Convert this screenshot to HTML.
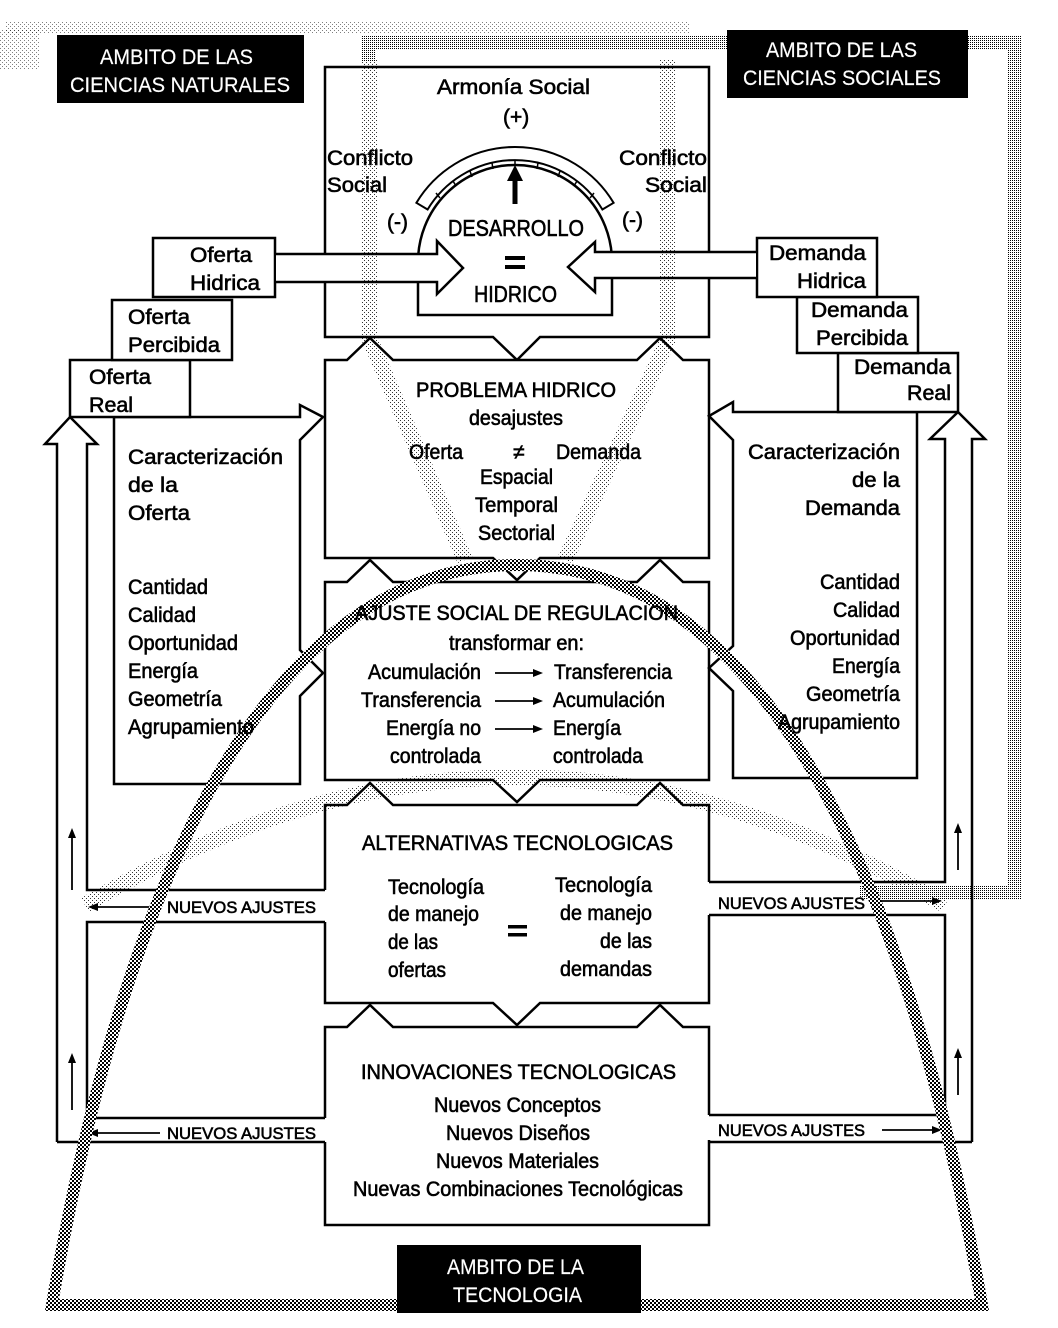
<!DOCTYPE html>
<html><head><meta charset="utf-8"><style>
html,body{margin:0;padding:0;background:#fff}
svg{display:block}
text{font-family:"Liberation Sans",sans-serif;font-size:21px;fill:#000;stroke:#000;stroke-width:0.6}
.w{fill:#fff;stroke:#fff;stroke-width:0.2}
.s{font-size:17px}
</style></head><body>
<svg width="1058" height="1328" viewBox="0 0 1058 1328" xmlns="http://www.w3.org/2000/svg">
<defs>
<pattern id="dk" width="4" height="4" patternUnits="userSpaceOnUse"><rect width="2" height="2" fill="#000"/><rect x="2" y="2" width="2" height="2" fill="#000"/><rect x="2" y="0" width="2" height="2" fill="#fff"/><rect x="0" y="2" width="2" height="2" fill="#fff"/></pattern>
<pattern id="md" width="4" height="4" patternUnits="userSpaceOnUse"><rect width="1" height="1" fill="#000"/><rect x="2" y="2" width="1" height="1" fill="#000"/><rect x="2" y="0" width="1" height="1" fill="#000"/><rect x="0" y="2" width="1" height="1" fill="#000"/></pattern>
<pattern id="lt" width="4" height="4" patternUnits="userSpaceOnUse"><rect width="1" height="1" fill="#000"/><rect x="2" y="2" width="1" height="1" fill="#000"/></pattern>
</defs>

<!-- social ambit frame -->
<path d="M368,62 V42 H1014 V892 H860" fill="none" stroke="url(#md)" stroke-width="14"/>
<rect x="5" y="22" width="685" height="12" fill="url(#lt)" opacity="0.5"/>
<rect x="0" y="30" width="40" height="40" fill="url(#lt)" opacity="0.5"/>

<g fill="#fff" stroke="#000" stroke-width="2.5" stroke-linejoin="miter">
<path d="M325,67 H709 V337 H540 L517,360 L493,337 H325 Z"/>
<path d="M325,360 H347 L370,338 L393,360 H637 L660,338 L683,360 H709 V558 H540 L517,580 L493,558 H325 Z"/>
<path d="M325,582 H347 L370,560 L393,582 H637 L660,560 L683,582 H709 V780 H540 L517,802 L493,780 H325 Z"/>
<path d="M325,805 H347 L370,783 L393,805 H637 L660,783 L683,805 H709 V1003 H540 L517,1025 L493,1003 H325 Z" stroke="none"/>
<path d="M325,890 V805 H347 L370,783 L393,805 H637 L660,783 L683,805 H709 V882" fill="none"/>
<path d="M709,915 V1003 H540 L517,1025 L493,1003 H325 V922" fill="none"/>
<path d="M325,1027 H347 L370,1005 L393,1027 H637 L660,1005 L683,1027 H709 V1225 H325 Z" stroke="none"/>
<path d="M325,1118 V1027 H347 L370,1005 L393,1027 H637 L660,1005 L683,1027 H709 V1115" fill="none"/>
<path d="M709,1140 V1225 H325 V1142" fill="none"/>

<path d="M114,417 H300 V405 L323,417 L300,440 V650 L323,673 L300,696 V784 H114 Z"/>
<path d="M917,412 H733 V402 L709,416 L733,440 V646 L709,668 L733,691 V778 H917 Z"/>

<rect x="70" y="360" width="120" height="57"/>
<rect x="112" y="300" width="120" height="60"/>
<rect x="153" y="238" width="122" height="59"/>
<rect x="838" y="353" width="120" height="59"/>
<rect x="797" y="297" width="121" height="56"/>
<rect x="757" y="238" width="120" height="59"/>

<path d="M418,262 A97,97 0 0 1 612,262 V315 H418 Z"/>
<path d="M276,254 H437 V241 L463,268 L437,294 V282 H276"/>
<path d="M756,252 H595 V242 L568,267 L595,292 V278 H756"/>
<path d="M416.4,202.8 A115,115 0 0 1 613.6,202.8 L602.4,209.5 A102,102 0 0 0 427.6,209.5 Z" stroke-width="2"/>
</g>
<g stroke="#000" stroke-width="1.5">
<line x1="453" y1="181" x2="456" y2="186"/><line x1="470" y1="171" x2="472" y2="177"/><line x1="492" y1="163" x2="493" y2="169"/><line x1="515" y1="160" x2="515" y2="166"/><line x1="538" y1="163" x2="537" y2="169"/><line x1="560" y1="171" x2="558" y2="177"/><line x1="577" y1="181" x2="574" y2="186"/><line x1="436" y1="193" x2="440" y2="198"/><line x1="594" y1="193" x2="590" y2="198"/>
</g>
<line x1="515" y1="204" x2="515" y2="178" stroke="#000" stroke-width="5"/>
<polygon points="507,181 515,165 523,181" fill="#000"/>

<g fill="none" stroke="#000" stroke-width="2.5">
<path d="M57,1142 V444 H45 L70,417 L97,444 H87 V890 H325"/>
<path d="M325,922 H87 V1118 H325"/>
<path d="M57,1142 H325"/>
<path d="M972,1142 V439 H985 L958,412 L930,439 H945 V882 H709"/>
<path d="M709,915 H945 V1115 H709"/>
<path d="M972,1142 H709"/>
</g>
<g stroke="#000" stroke-width="1.8">
<line x1="160" y1="907" x2="96" y2="907"/><line x1="160" y1="1133" x2="96" y2="1133"/>
<line x1="870" y1="901" x2="934" y2="901"/><line x1="882" y1="1130" x2="934" y2="1130"/>
<line x1="72" y1="890" x2="72" y2="836"/><line x1="72" y1="1110" x2="72" y2="1061"/>
<line x1="958" y1="870" x2="958" y2="831"/><line x1="958" y1="1095" x2="958" y2="1056"/>
<line x1="495" y1="673" x2="535" y2="673"/><line x1="495" y1="701" x2="535" y2="701"/><line x1="495" y1="729" x2="535" y2="729"/>
</g>
<g fill="#000">
<polygon points="88,907 98,903 98,911"/><polygon points="88,1133 98,1129 98,1137"/>
<polygon points="942,901 932,897 932,905"/><polygon points="942,1130 932,1126 932,1134"/>
<polygon points="72,828 68,838 76,838"/><polygon points="72,1053 68,1063 76,1063"/>
<polygon points="958,823 954,833 962,833"/><polygon points="958,1048 954,1058 962,1058"/>
<polygon points="543,673 533,669 533,677"/><polygon points="543,701 533,697 533,705"/><polygon points="543,729 533,725 533,733"/>
</g>

<g fill="none" stroke="url(#lt)" stroke-width="16" opacity="0.8">
<path d="M370,60 V340 L465,560"/>
<path d="M668,60 V340 L565,560"/>
<path d="M85,905 Q515,650 945,905"/>
</g>
<path d="M52,1305 C120,900 260,565 517,565 C774,565 912,900 982,1305 Z" fill="none" stroke="url(#dk)" stroke-width="12"/>

<rect x="57" y="35" width="247" height="68" fill="#000"/>
<rect x="727" y="30" width="241" height="68" fill="#000"/>
<rect x="397" y="1245" width="244" height="68" fill="#000"/>
<text class="w" x="100" y="64" textLength="153" lengthAdjust="spacingAndGlyphs">AMBITO DE LAS</text>
<text class="w" x="70" y="92" textLength="220" lengthAdjust="spacingAndGlyphs">CIENCIAS NATURALES</text>
<text class="w" x="766" y="57" textLength="151" lengthAdjust="spacingAndGlyphs">AMBITO DE LAS</text>
<text class="w" x="743" y="85" textLength="198" lengthAdjust="spacingAndGlyphs">CIENCIAS SOCIALES</text>
<text class="w" x="447" y="1274" textLength="137" lengthAdjust="spacingAndGlyphs">AMBITO DE LA</text>
<text class="w" x="453" y="1302" textLength="129" lengthAdjust="spacingAndGlyphs">TECNOLOGIA</text>

<text x="437" y="94" textLength="153" lengthAdjust="spacingAndGlyphs">Armonía Social</text>
<text x="503" y="124">(+)</text>
<text x="327" y="165" textLength="86" lengthAdjust="spacingAndGlyphs">Conflicto</text>
<text x="327" y="192" textLength="60" lengthAdjust="spacingAndGlyphs">Social</text>
<text x="619" y="165" textLength="88" lengthAdjust="spacingAndGlyphs">Conflicto</text>
<text x="645" y="192" textLength="62" lengthAdjust="spacingAndGlyphs">Social</text>
<text x="387" y="229">(-)</text>
<text x="622" y="227">(-)</text>
<text x="448" y="236" textLength="136" lengthAdjust="spacingAndGlyphs" style="font-size:23px">DESARROLLO</text>
<rect x="505" y="256" width="20" height="4" fill="#000"/><rect x="505" y="265" width="20" height="4" fill="#000"/>
<text x="474" y="302" textLength="83" lengthAdjust="spacingAndGlyphs" style="font-size:23px">HIDRICO</text>

<text x="190" y="262" textLength="62" lengthAdjust="spacingAndGlyphs">Oferta</text>
<text x="190" y="290" textLength="70" lengthAdjust="spacingAndGlyphs">Hidrica</text>
<text x="128" y="324" textLength="62" lengthAdjust="spacingAndGlyphs">Oferta</text>
<text x="128" y="352" textLength="92" lengthAdjust="spacingAndGlyphs">Percibida</text>
<text x="89" y="384" textLength="62" lengthAdjust="spacingAndGlyphs">Oferta</text>
<text x="89" y="412" textLength="44" lengthAdjust="spacingAndGlyphs">Real</text>
<text x="769" y="260" textLength="97" lengthAdjust="spacingAndGlyphs">Demanda</text>
<text x="797" y="288" textLength="69" lengthAdjust="spacingAndGlyphs">Hidrica</text>
<text x="811" y="317" textLength="97" lengthAdjust="spacingAndGlyphs">Demanda</text>
<text x="816" y="345" textLength="92" lengthAdjust="spacingAndGlyphs">Percibida</text>
<text x="854" y="374" textLength="97" lengthAdjust="spacingAndGlyphs">Demanda</text>
<text x="907" y="400" textLength="44" lengthAdjust="spacingAndGlyphs">Real</text>

<text x="416" y="397" textLength="200" lengthAdjust="spacingAndGlyphs">PROBLEMA HIDRICO</text>
<text x="469" y="425" textLength="94" lengthAdjust="spacingAndGlyphs">desajustes</text>
<text x="409" y="459" textLength="54" lengthAdjust="spacingAndGlyphs">Oferta</text>
<text x="513" y="459">≠</text>
<text x="556" y="459" textLength="85" lengthAdjust="spacingAndGlyphs">Demanda</text>
<text x="480" y="484" textLength="73" lengthAdjust="spacingAndGlyphs">Espacial</text>
<text x="475" y="512" textLength="83" lengthAdjust="spacingAndGlyphs">Temporal</text>
<text x="478" y="540" textLength="77" lengthAdjust="spacingAndGlyphs">Sectorial</text>

<text x="128" y="464" textLength="155" lengthAdjust="spacingAndGlyphs">Caracterización</text>
<text x="128" y="492" textLength="50" lengthAdjust="spacingAndGlyphs">de la</text>
<text x="128" y="520" textLength="62" lengthAdjust="spacingAndGlyphs">Oferta</text>
<text x="128" y="594" textLength="80" lengthAdjust="spacingAndGlyphs">Cantidad</text>
<text x="128" y="622" textLength="68" lengthAdjust="spacingAndGlyphs">Calidad</text>
<text x="128" y="650" textLength="110" lengthAdjust="spacingAndGlyphs">Oportunidad</text>
<text x="128" y="678" textLength="70" lengthAdjust="spacingAndGlyphs">Energía</text>
<text x="128" y="706" textLength="94" lengthAdjust="spacingAndGlyphs">Geometría</text>
<text x="128" y="734" textLength="126" lengthAdjust="spacingAndGlyphs">Agrupamiento</text>
<text x="748" y="459" textLength="152" lengthAdjust="spacingAndGlyphs">Caracterización</text>
<text x="852" y="487" textLength="48" lengthAdjust="spacingAndGlyphs">de la</text>
<text x="805" y="515" textLength="95" lengthAdjust="spacingAndGlyphs">Demanda</text>
<text x="820" y="589" textLength="80" lengthAdjust="spacingAndGlyphs">Cantidad</text>
<text x="833" y="617" textLength="67" lengthAdjust="spacingAndGlyphs">Calidad</text>
<text x="790" y="645" textLength="110" lengthAdjust="spacingAndGlyphs">Oportunidad</text>
<text x="832" y="673" textLength="68" lengthAdjust="spacingAndGlyphs">Energía</text>
<text x="806" y="701" textLength="94" lengthAdjust="spacingAndGlyphs">Geometría</text>
<text x="778" y="729" textLength="122" lengthAdjust="spacingAndGlyphs">Agrupamiento</text>

<text x="355" y="620" textLength="323" lengthAdjust="spacingAndGlyphs">AJUSTE SOCIAL DE REGULACION</text>
<text x="449" y="650" textLength="135" lengthAdjust="spacingAndGlyphs">transformar en:</text>
<text x="368" y="679" textLength="113" lengthAdjust="spacingAndGlyphs">Acumulación</text>
<text x="554" y="679" textLength="118" lengthAdjust="spacingAndGlyphs">Transferencia</text>
<text x="361" y="707" textLength="120" lengthAdjust="spacingAndGlyphs">Transferencia</text>
<text x="553" y="707" textLength="112" lengthAdjust="spacingAndGlyphs">Acumulación</text>
<text x="386" y="735" textLength="95" lengthAdjust="spacingAndGlyphs">Energía no</text>
<text x="553" y="735" textLength="68" lengthAdjust="spacingAndGlyphs">Energía</text>
<text x="390" y="763" textLength="91" lengthAdjust="spacingAndGlyphs">controlada</text>
<text x="553" y="763" textLength="90" lengthAdjust="spacingAndGlyphs">controlada</text>

<text x="362" y="850" textLength="311" lengthAdjust="spacingAndGlyphs">ALTERNATIVAS TECNOLOGICAS</text>
<text x="388" y="894" textLength="96" lengthAdjust="spacingAndGlyphs">Tecnología</text>
<text x="388" y="921" textLength="91" lengthAdjust="spacingAndGlyphs">de manejo</text>
<text x="388" y="949" textLength="50" lengthAdjust="spacingAndGlyphs">de las</text>
<text x="388" y="977" textLength="58" lengthAdjust="spacingAndGlyphs">ofertas</text>
<text x="555" y="892" textLength="97" lengthAdjust="spacingAndGlyphs">Tecnología</text>
<text x="560" y="920" textLength="92" lengthAdjust="spacingAndGlyphs">de manejo</text>
<text x="600" y="948" textLength="52" lengthAdjust="spacingAndGlyphs">de las</text>
<text x="560" y="976" textLength="92" lengthAdjust="spacingAndGlyphs">demandas</text>
<rect x="508" y="925" width="19" height="3.5" fill="#000"/><rect x="508" y="933" width="19" height="3.5" fill="#000"/>

<text class="s" x="167" y="913" textLength="149" lengthAdjust="spacingAndGlyphs">NUEVOS AJUSTES</text>
<text class="s" x="167" y="1139" textLength="149" lengthAdjust="spacingAndGlyphs">NUEVOS AJUSTES</text>
<text class="s" x="718" y="909" textLength="147" lengthAdjust="spacingAndGlyphs">NUEVOS AJUSTES</text>
<text class="s" x="718" y="1136" textLength="147" lengthAdjust="spacingAndGlyphs">NUEVOS AJUSTES</text>

<text x="361" y="1079" textLength="315" lengthAdjust="spacingAndGlyphs">INNOVACIONES TECNOLOGICAS</text>
<text x="434" y="1112" textLength="167" lengthAdjust="spacingAndGlyphs">Nuevos Conceptos</text>
<text x="446" y="1140" textLength="144" lengthAdjust="spacingAndGlyphs">Nuevos Diseños</text>
<text x="436" y="1168" textLength="163" lengthAdjust="spacingAndGlyphs">Nuevos Materiales</text>
<text x="353" y="1196" textLength="330" lengthAdjust="spacingAndGlyphs">Nuevas Combinaciones Tecnológicas</text>
</svg>
</body></html>
